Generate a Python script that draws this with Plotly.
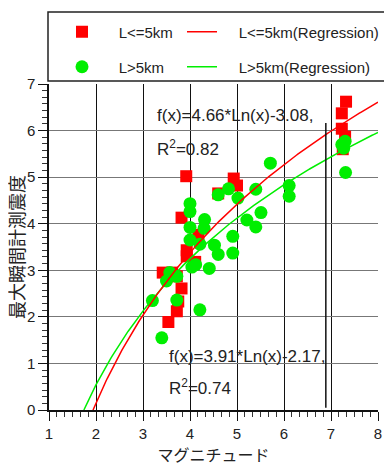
import numpy as np
import plotly.graph_objects as go

# ---- data ----
near_x = [3.92, 4.93, 5.00, 4.60, 3.82, 4.18, 3.93, 3.93, 4.11, 3.42, 3.62, 3.72, 3.82, 3.75, 3.72, 3.54,
          7.32, 7.23, 7.23, 7.30, 7.25]
near_y = [5.02, 4.97, 4.82, 4.65, 4.13, 3.76, 3.43, 3.30, 3.18, 2.95, 2.95, 2.87, 2.61, 2.33, 2.12, 1.89,
          6.62, 6.37, 6.04, 5.87, 5.60]

far_x = [5.71, 6.11, 6.11, 5.40, 4.82, 4.60, 5.02, 4.00, 4.00, 4.31, 4.00, 4.30, 5.21, 5.51, 5.40, 4.91,
         4.00, 4.21, 4.52, 4.60, 4.91, 4.41, 4.04, 4.12, 3.57, 3.72, 3.50, 3.72, 3.20, 4.21, 3.40,
         7.23, 7.30, 7.27, 7.31]
far_y = [5.30, 4.82, 4.59, 4.74, 4.75, 4.62, 4.55, 4.43, 4.26, 4.09, 3.92, 3.90, 4.08, 4.24, 3.93, 3.73,
         3.65, 3.56, 3.54, 3.34, 3.37, 3.04, 3.07, 3.12, 2.95, 2.87, 2.77, 2.36, 2.35, 2.15, 1.55,
         5.70, 5.77, 5.62, 5.10]

# regression y = a*ln(x) + b
near_coef = [4.66, -3.08]
far_coef = [3.91, -2.17]
near_r2 = "0.82"
far_r2 = "0.74"

x_ticks = [1, 2, 3, 4, 5, 6, 7, 8]
y_ticks = [0, 1, 2, 3, 4, 5, 6, 7]

FONT = "Liberation Sans, Arial, Noto Sans CJK JP, sans-serif"
RED = "#ff0000"
GREEN = "#00ee00"

# the page body adds an 8px offset; all target pixel positions are screen positions
OFF = 8
W, H = 392 - OFF, 464 - OFF
L, R, T, B = 49 - OFF, 14, 84 - OFF, 54
pw, ph = W - L - R, H - T - B
NB = "\u00a0"


def reg_curve(coef):
    a, b = coef
    x0 = np.exp(-b / a)
    xs = np.linspace(x0, 8, 200)
    return xs, a * np.log(xs) + b


fig = go.Figure()

rx, ry = reg_curve(near_coef)
gx, gy = reg_curve(far_coef)
fig.add_trace(go.Scatter(x=near_x, y=near_y, mode="markers", name=NB * 4 + "L<=5km",
                         marker=dict(symbol="square", size=12, color=RED), legend="legend"))
fig.add_trace(go.Scatter(x=far_x, y=far_y, mode="markers", name=NB * 4 + "L>5km",
                         marker=dict(symbol="circle", size=13, color=GREEN), legend="legend3"))
fig.add_trace(go.Scatter(x=gx, y=gy, mode="lines", name=NB * 4 + "L>5km(Regression)",
                         line=dict(color=GREEN, width=1.5), legend="legend4"))
fig.add_trace(go.Scatter(x=rx, y=ry, mode="lines", name=NB * 4 + "L<=5km(Regression)",
                         line=dict(color=RED, width=1.5), legend="legend2"))


def cx(p):
    return (p - OFF) / W


def cy(p):
    return 1 - (p - OFF) / H


def px_x(p):
    return (p - OFF - L) / pw


def px_y(p):
    return (H + OFF - B - p) / ph


leg_common = dict(orientation="h", bgcolor="rgba(0,0,0,0)", borderwidth=0,
                  font=dict(family=FONT, size=15, color="#222"), xanchor="left", yanchor="middle",
                  xref="container", yref="container")
fig.update_layout(
    showlegend=True,
    legend=dict(x=cx(62), y=cy(32), **leg_common),
    legend2=dict(x=cx(182), y=cy(32), **leg_common),
    legend3=dict(x=cx(62), y=cy(67), **leg_common),
    legend4=dict(x=cx(182), y=cy(67), **leg_common),
)

# legend frame
fig.add_shape(type="rect", xref="paper", yref="paper", x0=px_x(48), x1=px_x(400), y0=px_y(81), y1=px_y(12),
              line=dict(color="#222", width=1.5), fillcolor="rgba(0,0,0,0)", layer="above")
# stray vertical line
fig.add_shape(type="line", xref="x", yref="y", x0=6.89, x1=6.89, y0=0.05, y1=6.16,
              line=dict(color="#111", width=1.5))

ann_font = dict(family=FONT, size=17, color="#222")
fig.add_annotation(x=3.25, y=6.33, xref="x", yref="y", xanchor="left", yanchor="middle", showarrow=False,
                   text=f"f(x)={near_coef[0]:.2f}*Ln(x){near_coef[1]:.2f},", font=ann_font)
fig.add_annotation(x=3.25, y=5.62, xref="x", yref="y", xanchor="left", yanchor="middle", showarrow=False,
                   text=f"R<sup>2</sup>={near_r2}", font=ann_font)
fig.add_annotation(x=3.51, y=1.14, xref="x", yref="y", xanchor="left", yanchor="middle", showarrow=False,
                   text=f"f(x)={far_coef[0]:.2f}*Ln(x){far_coef[1]:.2f},", font=ann_font)
fig.add_annotation(x=3.51, y=0.49, xref="x", yref="y", xanchor="left", yanchor="middle", showarrow=False,
                   text=f"R<sup>2</sup>={far_r2}", font=ann_font)

fig.update_layout(
    width=W, height=H,
    margin=dict(l=L, r=R, t=T, b=B, pad=0, autoexpand=False),
    paper_bgcolor="white", plot_bgcolor="white",
    font=dict(family=FONT, size=14, color="#222"),
    xaxis=dict(range=[1, 8], tickvals=x_ticks, ticktext=[str(v) for v in x_ticks], automargin=False,
               showgrid=True, gridcolor="#111", gridwidth=1.2,
               showline=True, linecolor="#111", linewidth=1.5, zeroline=False,
               ticks="outside", ticklen=9, tickcolor="#111",
               minor=dict(dtick=1 / 6, ticks="outside", ticklen=5, tickcolor="#333", showgrid=False),
               title=dict(text="マグニチュード", font=dict(size=16, family=FONT), standoff=9),
               tickfont=dict(size=15)),
    yaxis=dict(range=[0, 7], tickvals=y_ticks, ticktext=[str(v) for v in y_ticks], automargin=False,
               showgrid=True, gridcolor="#777", gridwidth=1.2,
               showline=True, linecolor="#111", linewidth=1.5, zeroline=False,
               ticks="outside", ticklen=9, tickcolor="#111",
               minor=dict(dtick=1 / 7, ticks="outside", ticklen=5, tickcolor="#333", showgrid=False),
               title=dict(text="最大瞬間計測震度", font=dict(size=18, family=FONT), standoff=0),
               tickfont=dict(size=15)),
)

fig.write_html("out.html")
